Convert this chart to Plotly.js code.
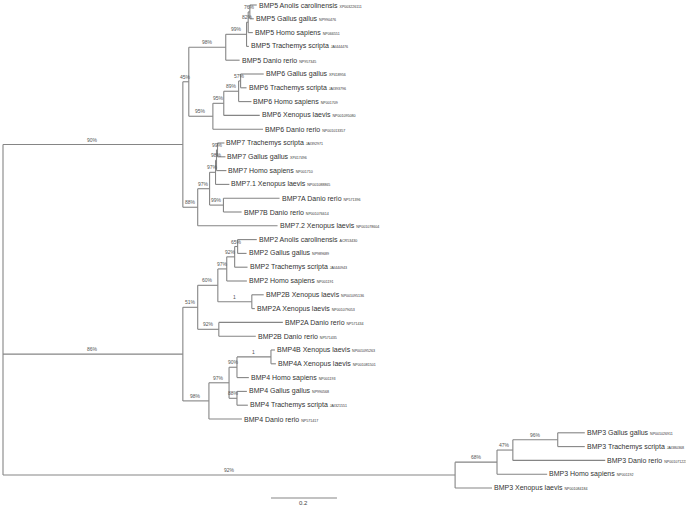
<!DOCTYPE html>
<html><head><meta charset="utf-8">
<script src="https://cdn.plot.ly/plotly-3.0.1.min.js"></script>
<style>html,body{margin:0;padding:0;background:#fff}#chart{width:686px;height:510px}</style>
</head><body><div id="chart"></div>
<script>
// ---- tree data (branch lengths in substitutions per site) ----
const tipNames = [
 "BMP5 Anolis carolinensis","BMP5 Gallus gallus","BMP5 Homo sapiens","BMP5 Trachemys scripta","BMP5 Danio rerio",
 "BMP6 Gallus gallus","BMP6 Trachemys scripta","BMP6 Homo sapiens","BMP6 Xenopus laevis","BMP6 Danio rerio",
 "BMP7 Trachemys scripta","BMP7 Gallus gallus","BMP7 Homo sapiens","BMP7.1 Xenopus laevis","BMP7A Danio rerio","BMP7B Danio rerio","BMP7.2 Xenopus laevis",
 "BMP2 Anolis carolinensis","BMP2 Gallus gallus","BMP2 Trachemys scripta","BMP2 Homo sapiens","BMP2B Xenopus laevis","BMP2A Xenopus laevis","BMP2A Danio rerio","BMP2B Danio rerio",
 "BMP4B Xenopus laevis","BMP4A Xenopus laevis","BMP4 Homo sapiens","BMP4 Gallus gallus","BMP4 Trachemys scripta","BMP4 Danio rerio",
 "BMP3 Gallus gallus","BMP3 Trachemys scripta","BMP3 Danio rerio","BMP3 Homo sapiens","BMP3 Xenopus laevis"];
const tipAccessions = [
 "XP003226111","NP990476","NP066551","JAI444476","NP957345",
 "XP418956","JAI393796","NP001709","NP001095080","NP001013357",
 "JAI392971","XP417496","NP001710","NP001088865","NP571396","NP001076614","NP001078604",
 "ACR53430","NP989689","JAI440943","NP001191","NP001095136","NP001079053","NP571434","NP571435",
 "NP001095263","NP001081501","NP001193","NP990568","JAI321551","NP571417",
 "NP001026911","JAI380368","NP001071223","NP001192","NP001084184"];
const tipParents = [
 "n76","n76","n82","n99","C",
 "H","H","G","F","E",
 "N","N","M","K","L","L","I",
 "T","T","S","R","U","U","V","V",
 "Z","Z","Y","AA","AA","W",
 "EE","EE","DD","BB","CC"];
const tipLengths = [
 0.021,0.012,0.014,0.007,0.042,
 0.070,0.018,0.039,0.109,0.152,
 0.021,0.024,0.030,0.042,0.170,0.055,0.242,
 0.058,0.027,0.039,0.061,0.036,0.009,0.194,0.112,
 0.012,0.015,0.036,0.030,0.033,0.100,
 0.082,0.082,0.280,0.152,0.112];
const nodeIds     = ["root","A","B","C","n99","n82","n76","E","F","G","H","I","J","K","M","N","L",
                     "O","P","Q","R","S","T","U","V","W","X","Y","Z","AA","CC","BB","DD","EE"];
const nodeParents = [null,"root","A","B","C","n99","n82","B","E","F","G","A","I","J","K","M","J",
                     "root","O","P","Q","R","S","Q","P","O","W","X","Y","X","root","CC","BB","DD"];
const nodeLengths = [0,0.545,0.018,0.112,0.063,0.005,0.005,0.073,0.033,0.045,0.006,0.045,0.036,0.018,0.003,0.003,0.042,
                     0.545,0.045,0.061,0.027,0.024,0.009,0.103,0.064,0.079,0.061,0.024,0.103,0.024,1.370,0.127,0.048,0.136];
const nodeSupport = ["","90%","45%","98%","99%","82%","76%","95%","95%","89%","57%","88%","97%","97%","98%","99%","99%",
                     "86%","51%","60%","97%","92%","65%","1","92%","98%","97%","90%","1","88%","92%","68%","47%","96%"];
const scaleBarLength = 0.2;
const scaleBarLabel = "0.2";

// ---- build geometry ----
const par = {}, len = {}, sup = {};
nodeIds.forEach((id,i)=>{par[id]=nodeParents[i]; len[id]=nodeLengths[i]; sup[id]=nodeSupport[i];});
tipNames.forEach((n,i)=>{const id="t"+i; par[id]=tipParents[i]; len[id]=tipLengths[i];});
const depth = {};
function dep(id){ if(depth[id]!==undefined) return depth[id];
  const d = (par[id]===null?0:dep(par[id])) + len[id]; depth[id]=d; return d; }
Object.keys(par).forEach(dep);
const children = {};
Object.keys(par).forEach(id=>{ if(par[id]!==null){ (children[par[id]]=children[par[id]]||[]).push(id);} });
const ypos = {};
function yOf(id){ if(ypos[id]!==undefined) return ypos[id];
  if(id[0]==="t"){ ypos[id]=+id.slice(1); return ypos[id]; }
  const ys = children[id].map(yOf); ypos[id]=(Math.min(...ys)+Math.max(...ys))/2; return ypos[id]; }
Object.keys(par).forEach(yOf);

const lx=[], ly=[];
Object.keys(par).forEach(id=>{
  if(par[id]!==null){ lx.push(depth[par[id]], depth[id], null); ly.push(ypos[id], ypos[id], null); }
  if(children[id]){ const ys=children[id].map(c=>ypos[c]); lx.push(depth[id],depth[id],null); ly.push(Math.min(...ys),Math.max(...ys),null); }
});

const FONT = "Liberation Sans, Arial, sans-serif";
const annotations = [];
tipNames.forEach((n,i)=>{
  annotations.push({x:depth["t"+i], y:i, xref:"x", yref:"y", showarrow:false, xanchor:"left", yanchor:"middle", xshift:0,
    text: n + ' <span style="font-size:3.6px">' + tipAccessions[i] + '</span>',
    font:{family:FONT, size:7, color:"#333"}});
});
nodeIds.forEach(id=>{
  if(par[id]===null || !sup[id]) return;
  annotations.push({x:(depth[par[id]]+depth[id])/2, y:ypos[id], xref:"x", yref:"y", showarrow:false, xanchor:"center", yanchor:"bottom",
    yshift:0, text:sup[id], font:{family:FONT, size:5, color:"#555"}});
});
const sbX = 0.812, sbY = 35.72;
annotations.push({x:sbX+scaleBarLength/2, y:sbY, xref:"x", yref:"y", showarrow:false, xanchor:"center", yanchor:"top",
  text:scaleBarLabel, font:{family:FONT, size:6, color:"#444"}});

const traces = [
  {type:"scatter", mode:"lines", x:lx, y:ly, line:{color:"#858585", width:1.1}, hoverinfo:"skip"},
  {type:"scatter", mode:"lines", x:[sbX, sbX+scaleBarLength], y:[sbY, sbY], line:{color:"#858585", width:1.1}, hoverinfo:"skip"}
];
const layout = {
  width:686, height:510, margin:{l:0,r:0,t:0,b:0}, paper_bgcolor:"#fff", plot_bgcolor:"#fff", showlegend:false,
  xaxis:{range:[-3/330, 683/330], visible:false, fixedrange:true},
  yaxis:{range:[36.594, -0.362], visible:false, fixedrange:true},
  annotations
};
Plotly.newPlot("chart", traces, layout, {displayModeBar:false, staticPlot:true});
</script></body></html>
